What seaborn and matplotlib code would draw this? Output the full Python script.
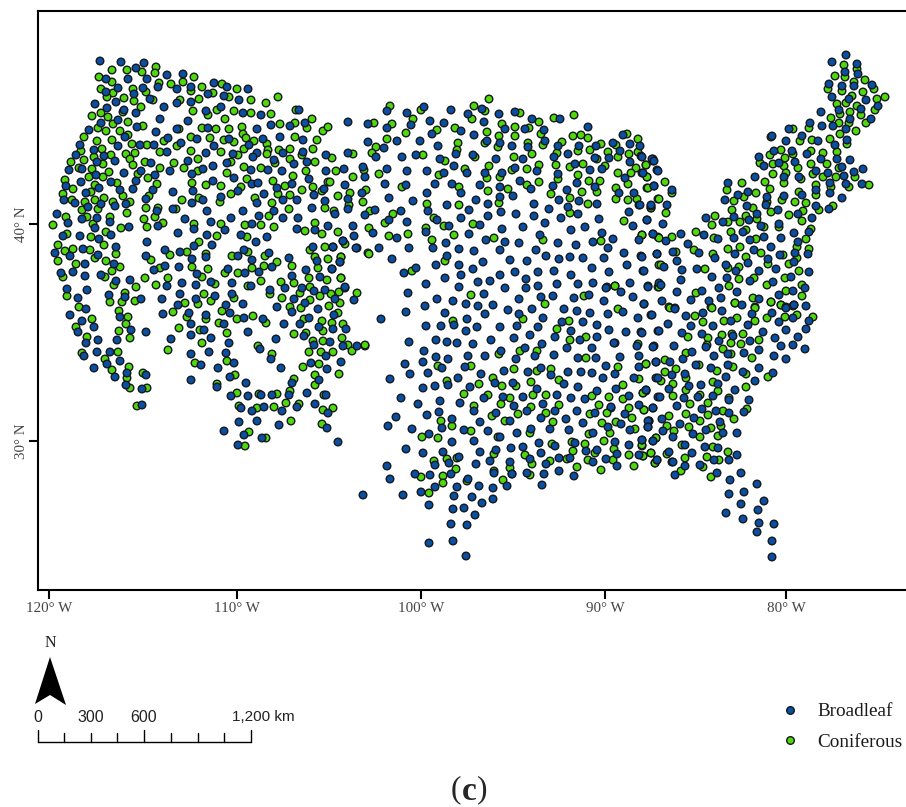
import matplotlib
matplotlib.use('Agg')
import matplotlib.pyplot as plt
import pandas as pd
import seaborn as sns

# Plot sites, as projected map x / y (map is already projected,
# graticule ticks below are given in the same units)
broadleaf_nw = [(100,61),(121,62),(144,63),(136,68),(167,75),(183,74),(106,79),(128,79),(147,79),(158,87),(143,88),(118,88),(106,92),(134,94),(177,89),(191,87),(214,83),(227,87),(248,89),(208,94),(224,96),(239,100),(150,99),(177,103),(191,102),(164,107),(95,104),(116,102),(107,108),(124,110),(136,113),(206,111),(221,107),(243,113),(261,115),(299,110),(160,119),(188,121),(118,120),(101,123),(137,127),(156,132),(177,129),(208,128),(257,129),(271,125),(290,126),(305,123),(89,130),(125,137),(168,138),(197,139),(229,139),(263,139),(280,137),(303,140),(80,145),(94,150),(118,146),(140,145),(154,145),(181,143),(214,146),(249,145),(76,155),(104,156),(167,152),(206,153),(233,154),(257,153),(253,157),(283,153),(303,152),(326,155),(97,162),(115,161),(151,163),(188,161),(227,163),(274,160),(307,162),(69,170),(82,169),(141,171),(170,171),(203,169),(192,174),(213,166),(251,170),(268,170),(282,171),(294,164),(326,171),(96,175),(124,173),(155,175),(234,178),(309,179),(81,182),(66,186),(111,182),(136,181),(213,181),(252,184),(258,183),(277,188),(292,184),(99,188),(120,190),(133,189),(153,190),(193,191),(238,191),(324,189),(86,193),(173,192),(264,194),(314,195),(221,197),(64,200),(75,203),(146,199),(101,204),(88,207),(115,206),(126,204),(192,203),(203,200),(257,203),(283,200),(297,200),(325,201),(157,211),(173,209),(207,211),(243,211),(274,211),(312,208),(57,214),(97,218),(110,222),(82,219),(68,223),(185,219),(211,222),(231,218),(259,216),(283,218),(298,218),(129,227),(158,226),(95,228),(194,229),(252,224),(225,230),(297,229),(315,230),(328,226),(63,236),(80,236),(111,235),(178,233),(207,235),(241,235),(267,237),(99,239)]
broadleaf_sw = [(55,253),(70,256),(83,249),(98,255),(116,247),(147,242),(146,256),(165,250),(180,252),(194,246),(212,245),(244,250),(256,242),(192,259),(206,257),(238,256),(252,260),(269,253),(289,258),(313,247),(333,247),(343,241),(357,248),(317,261),(340,262),(114,264),(85,264),(61,273),(73,272),(85,276),(101,275),(116,281),(130,280),(154,270),(165,266),(179,267),(197,274),(228,269),(245,273),(259,272),(272,267),(292,276),(306,270),(320,277),(332,269),(211,282),(182,283),(167,286),(196,285),(232,283),(251,286),(67,289),(87,290),(109,295),(125,297),(141,299),(162,299),(180,294),(196,299),(215,296),(232,294),(270,290),(285,288),(302,288),(314,291),(325,290),(345,288),(78,298),(294,299),(335,299),(354,300),(178,305),(226,305),(243,304),(305,303),(86,309),(277,307),(292,312),(318,309),(70,315),(120,317),(163,314),(189,313),(206,315),(230,313),(244,318),(263,319),(334,315),(82,321),(309,318),(284,324),(300,324),(191,324),(224,324),(319,327),(94,327),(131,330),(204,330),(346,329),(78,332),(248,332),(146,332),(333,329),(191,335),(211,338),(304,336),(98,340),(117,340),(171,339),(276,339),(86,343),(229,343),(330,342),(314,345),(343,346),(357,346),(260,349),(97,352),(110,352),(209,352),(226,353),(84,356),(191,354),(271,359),(326,356),(120,361),(107,364),(311,363),(341,362),(234,363),(201,365),(94,368),(218,368),(281,368),(327,369),(127,373),(146,375),(230,377),(115,377),(319,380),(191,380),(292,383),(246,383),(126,385),(217,387),(142,389),(231,396),(248,396),(261,395),(272,395),(289,395),(307,393),(326,395),(142,405),(241,408),(264,407),(252,411),(282,411),(297,407),(315,404),(328,413),(239,422),(257,421),(279,425),(327,428),(224,431),(244,435),(262,438),(238,445),(338,442)]
broadleaf_north = [(348,122),(368,124),(387,128),(387,111),(407,113),(424,107),(430,121),(451,110),(468,114),(482,109),(499,114),(515,112),(532,119),(560,119),(444,123),(411,125),(484,122),(432,134),(461,131),(474,135),(505,129),(525,129),(544,130),(588,127),(623,135),(368,142),(397,141),(420,141),(438,146),(487,141),(500,143),(512,146),(528,147),(545,141),(558,146),(579,146),(596,146),(613,143),(630,144),(640,146),(348,153),(384,148),(376,157),(402,157),(416,155),(456,154),(473,155),(440,159),(496,159),(523,159),(554,157),(568,154),(595,158),(620,151),(641,156),(609,158),(630,162),(652,159),(344,169),(363,167),(387,169),(407,171),(427,171),(454,166),(444,173),(467,173),(485,173),(502,173),(515,168),(537,171),(558,174),(575,164),(590,170),(602,169),(625,178),(642,173),(657,170),(365,177),(385,184),(345,185),(406,185),(435,184),(452,184),(480,185),(500,187),(520,181),(531,189),(553,186),(577,183),(595,187),(567,190),(654,186),(362,193),(348,199),(427,193),(461,193),(389,198),(413,201),(476,200),(500,197),(513,196),(559,200),(579,201),(597,204),(619,193),(634,193),(639,205),(651,206),(348,209),(447,205),(488,204),(534,204),(568,207),(335,214),(365,215),(375,210),(401,211),(428,211),(469,210),(501,212),(516,214),(549,209),(578,214),(629,212),(389,220),(407,222),(437,220),(461,218),(488,216),(534,216),(561,218),(599,219),(647,220),(353,226),(449,226),(480,225),(545,223),(585,227),(633,226),(373,233),(426,232),(469,234),(502,229),(523,227),(571,230),(602,233),(354,236),(397,238),(343,241),(540,235),(653,234),(446,243),(486,240),(505,242),(519,243),(558,243),(576,245),(593,242),(613,239),(639,240),(333,247),(356,248),(379,248),(409,248),(433,248),(459,249),(474,251),(500,250),(536,250),(608,248),(624,253),(657,254),(392,259),(447,256),(546,256),(570,257),(583,258),(604,258),(641,256),(340,262),(510,260),(527,261),(559,259),(436,265),(459,265),(483,262),(627,265),(332,269),(416,268),(404,273),(473,269),(515,272),(538,272),(554,271),(592,268),(609,272),(643,271),(461,275),(500,275),(571,275),(445,278),(526,279),(478,282),(490,281),(426,284),(459,287),(538,286),(557,284),(578,284),(593,283),(630,283),(345,287),(607,287),(648,286),(659,283)]
broadleaf_south = [(408,293),(484,294),(505,288),(526,288),(606,288),(621,292),(633,297),(437,299),(453,301),(466,304),(478,306),(493,305),(519,299),(541,297),(553,296),(574,298),(589,295),(604,301),(644,304),(425,306),(406,312),(445,313),(485,314),(508,310),(532,309),(519,314),(564,309),(577,311),(590,313),(608,314),(623,312),(651,315),(638,318),(381,319),(467,319),(543,318),(562,322),(583,322),(454,325),(426,326),(441,326),(477,327),(500,327),(517,326),(538,327),(597,325),(466,331),(571,331),(609,330),(626,332),(641,332),(658,331),(530,335),(555,337),(514,338),(597,337),(580,340),(409,342),(436,340),(447,342),(457,343),(491,340),(473,344),(542,344),(614,343),(637,346),(654,346),(567,348),(592,348),(525,348),(424,351),(501,351),(468,356),(485,356),(535,356),(554,355),(639,356),(436,357),(448,359),(516,359),(578,358),(596,358),(620,357),(405,364),(423,362),(656,362),(442,368),(465,367),(606,366),(639,367),(541,368),(504,371),(528,372),(410,374),(428,373),(481,374),(551,375),(568,372),(581,372),(592,373),(615,374),(390,379),(458,378),(634,378),(656,378),(603,378),(448,385),(495,383),(513,383),(564,384),(423,388),(435,386),(470,387),(578,387),(537,389),(616,389),(646,390),(401,398),(557,395),(503,397),(484,398),(523,397),(571,398),(597,391),(585,399),(629,396),(658,397),(440,401),(418,404),(460,403),(543,404),(514,406),(611,407),(639,405),(653,408),(439,412),(474,411),(527,411),(555,411),(577,411),(595,413),(625,414),(427,415),(496,413),(396,417),(452,419),(541,418),(566,419),(510,421),(480,422),(583,423),(621,424),(648,421),(388,426),(442,428),(608,427),(648,427),(412,429),(464,430),(488,431),(531,429),(550,429),(569,430),(630,430),(429,434),(517,433),(593,433),(500,437),(452,442),(474,441),(539,443),(555,446),(575,443),(615,442),(642,440),(653,441),(629,445),(523,447),(511,448),(406,449),(597,450),(586,451),(423,453),(443,452),(480,452),(496,450),(541,453),(617,454),(639,455),(459,457),(559,458),(570,458),(606,459),(657,460),(435,465),(449,463),(476,464),(490,461),(510,462),(530,459),(546,464),(593,462),(387,466),(617,466),(415,474),(430,475),(451,474),(494,473),(512,474),(527,473),(544,474),(559,471),(390,479),(574,476),(468,479),(435,487),(457,487),(479,486),(493,488),(507,486),(542,485),(363,495),(403,495),(421,492),(454,496),(472,497),(429,505),(482,503),(493,499),(453,509),(464,508),(475,515),(451,524),(467,525),(429,543),(453,541),(466,556)]
broadleaf_ne = [(846,55),(832,62),(857,64),(845,72),(858,74),(829,84),(842,86),(854,86),(872,85),(832,97),(849,99),(866,100),(878,106),(861,109),(839,110),(821,112),(871,119),(850,119),(810,123),(822,126),(833,126),(846,129),(789,129),(772,136),(802,136),(786,141),(818,141),(847,140),(835,145),(774,151),(792,151),(807,154),(759,157),(821,159),(837,159),(850,160),(764,166),(779,163),(795,162),(842,167),(816,171),(863,169),(854,172),(784,177),(799,177),(828,173),(844,176),(755,177),(728,183),(830,183),(846,184),(862,184),(816,190),(830,193),(802,195),(842,198),(767,197),(784,196),(738,195),(748,192),(725,200),(766,205),(747,206),(816,206),(829,209),(778,210),(798,214),(734,217),(757,214),(812,218),(706,218),(749,220),(723,222),(779,224),(761,226),(743,232),(809,232),(794,233),(704,235),(681,234),(653,234),(734,238),(764,237),(781,238),(718,239),(798,242),(666,241),(688,244),(750,240),(771,247),(699,253),(754,250),(735,254),(673,252),(657,254),(780,255),(795,253),(808,254),(642,257),(715,258),(768,259),(677,261),(794,262),(748,263),(726,265),(664,267),(682,270),(697,269),(736,271),(759,271),(776,269),(809,272),(644,271),(712,277),(727,278),(750,281),(791,277),(681,280),(773,282),(648,287),(661,285),(719,288),(805,288),(702,291),(737,292),(677,292),(793,291),(779,295),(691,300),(721,298),(759,299),(662,301),(709,301),(742,305),(806,306),(675,308),(786,307),(794,305),(642,157),(654,161),(658,171),(643,173),(654,186),(672,190),(651,205),(667,205),(647,220),(663,224),(640,205)]
broadleaf_se = [(644,304),(675,309),(652,315),(686,316),(703,313),(722,311),(752,314),(772,313),(786,308),(793,318),(779,322),(809,321),(668,324),(691,326),(713,326),(731,321),(748,325),(806,329),(682,333),(659,331),(642,333),(702,334),(733,336),(763,332),(786,330),(798,337),(775,338),(719,341),(750,341),(793,345),(653,347),(674,346),(706,347),(781,346),(805,349),(759,350),(744,353),(728,354),(692,352),(774,356),(786,359),(714,356),(683,359),(656,362),(670,362),(696,365),(728,365),(759,368),(711,368),(743,372),(773,373),(672,375),(685,374),(658,378),(726,377),(755,381),(689,386),(701,385),(718,384),(646,390),(669,389),(735,390),(713,396),(660,397),(684,398),(698,397),(729,400),(749,400),(653,408),(677,406),(702,409),(716,411),(729,413),(744,412),(662,419),(694,418),(720,422),(680,424),(648,427),(663,431),(706,430),(693,434),(723,433),(737,433),(673,437),(653,441),(642,440),(685,445),(705,447),(718,448),(669,452),(692,453),(737,455),(714,460),(729,460),(657,460),(673,462),(685,466),(700,465),(717,473),(741,473),(675,475),(730,480),(757,484),(729,494),(744,492),(764,501),(741,504),(758,510),(726,513),(743,519),(759,523),(774,524),(757,532),(772,541),(772,557)]

coniferous_nw = [(99,77),(112,70),(127,70),(142,72),(156,67),(155,73),(112,82),(101,89),(113,93),(107,97),(124,98),(133,89),(134,101),(146,92),(153,100),(159,83),(171,84),(183,82),(194,77),(202,87),(191,91),(180,100),(199,99),(222,84),(237,89),(229,97),(251,100),(266,103),(278,97),(213,93),(101,113),(92,116),(108,117),(123,112),(141,107),(193,111),(217,110),(208,115),(234,111),(251,113),(271,114),(296,110),(312,119),(295,123),(307,128),(323,131),(328,127),(280,124),(242,127),(225,119),(229,129),(216,129),(202,128),(179,129),(143,126),(128,122),(113,124),(98,128),(106,131),(120,131),(84,137),(97,141),(112,140),(128,135),(132,144),(147,145),(164,141),(177,146),(191,137),(210,138),(224,140),(234,142),(243,134),(246,138),(254,141),(267,144),(268,150),(267,154),(279,150),(290,149),(295,137),(317,140),(313,149),(302,155),(81,151),(102,149),(94,157),(111,155),(126,154),(135,153),(130,159),(160,152),(191,151),(198,159),(221,152),(238,155),(244,149),(71,162),(84,160),(103,164),(145,162),(133,165),(160,168),(174,163),(184,168),(231,162),(244,167),(261,168),(275,163),(290,159),(315,162),(79,168),(92,169),(109,172),(306,171),(198,171),(227,173),(293,176),(65,180),(89,177),(103,177),(138,174),(148,178),(157,184),(192,183),(247,179),(273,181),(73,189),(95,185),(117,183),(206,185),(221,186),(241,187),(285,186),(313,187),(328,182),(63,194),(91,192),(123,196),(149,196),(231,194),(278,194),(290,195),(302,190),(322,191),(104,198),(95,200),(85,202),(72,200),(113,202),(130,202),(182,200),(199,198),(220,202),(255,198),(272,203),(325,208),(82,210),(98,209),(127,213),(146,208),(158,208),(289,209),(66,217),(87,217),(110,217),(144,219),(155,217),(176,209),(269,216),(53,225),(93,224),(163,223),(121,228),(147,227),(194,224),(221,224),(245,225),(261,225),(274,227),(315,223),(305,231),(322,234),(67,234),(106,232),(91,237),(217,236),(247,237)]
coniferous_sw = [(58,245),(65,251),(73,249),(90,250),(104,245),(95,258),(116,254),(58,261),(76,264),(106,261),(120,267),(112,271),(105,277),(63,277),(151,260),(170,255),(187,252),(199,242),(206,254),(232,256),(248,252),(265,256),(277,262),(264,266),(252,268),(292,266),(310,250),(325,247),(315,257),(328,259),(341,257),(368,253),(192,267),(208,269),(160,268),(225,273),(238,273),(202,277),(145,278),(168,278),(215,284),(261,281),(281,282),(294,283),(309,278),(318,268),(327,280),(341,278),(114,285),(136,287),(156,285),(248,286),(67,296),(125,293),(204,294),(234,298),(270,294),(300,293),(310,287),(320,296),(331,294),(339,292),(357,293),(110,302),(122,302),(135,301),(185,303),(198,304),(211,301),(282,298),(310,300),(340,303),(79,307),(119,311),(173,312),(222,311),(290,307),(301,308),(329,306),(338,313),(128,317),(187,317),(206,319),(237,319),(253,316),(92,319),(219,323),(304,319),(322,321),(266,323),(126,324),(332,323),(343,324),(76,327),(179,328),(200,330),(119,331),(227,333),(323,331),(294,334),(306,333),(87,337),(130,338),(342,338),(202,343),(313,341),(323,341),(348,345),(365,346),(258,346),(168,350),(82,353),(118,352),(309,352),(321,352),(333,352),(352,351),(272,354),(105,359),(227,361),(195,363),(319,364),(303,367),(129,367),(112,370),(143,373),(235,375),(315,375),(339,374),(127,378),(294,379),(315,385),(217,384),(130,388),(147,388),(290,391),(237,393),(259,394),(277,394),(324,395),(286,403),(137,406),(239,406),(257,408),(274,407),(299,404),(323,410),(333,408),(291,421),(322,424),(249,432),(266,438),(245,446)]
coniferous_north = [(489,99),(390,106),(421,110),(474,106),(485,111),(520,113),(574,115),(554,118),(539,122),(374,123),(392,124),(413,119),(472,119),(502,124),(515,127),(529,128),(455,128),(437,130),(406,133),(387,139),(487,132),(499,136),(515,136),(541,134),(573,136),(581,135),(588,138),(627,134),(638,139),(458,143),(485,143),(498,147),(528,143),(543,145),(562,142),(601,144),(616,145),(376,147),(372,153),(353,154),(423,155),(457,150),(475,157),(532,154),(557,153),(578,151),(590,150),(608,152),(629,154),(638,152),(332,158),(445,161),(514,157),(597,159),(618,157),(653,161),(539,165),(556,165),(570,167),(583,164),(605,166),(636,168),(646,165),(336,171),(364,170),(379,174),(439,175),(465,169),(489,166),(512,170),(527,169),(618,173),(631,173),(353,177),(487,178),(500,177),(578,175),(647,177),(558,179),(539,182),(589,181),(600,181),(628,184),(330,182),(402,187),(459,187),(508,189),(527,185),(616,188),(647,188),(366,190),(350,193),(338,196),(488,191),(551,194),(582,192),(597,192),(570,198),(616,199),(628,200),(637,199),(658,199),(363,202),(427,204),(459,205),(499,203),(588,204),(349,205),(651,208),(370,211),(334,211),(393,214),(570,213),(385,223),(434,218),(624,221),(444,226),(473,224),(369,228),(338,232),(426,228),(408,234),(454,235),(389,236),(642,235),(494,238),(432,240),(543,240),(601,241),(658,237),(345,244),(341,257),(369,254),(445,261),(412,271),(341,278),(659,265),(615,286)]
coniferous_south = [(471,295),(545,304),(584,296),(615,286),(618,309),(658,287),(453,321),(523,319),(569,321),(557,329),(570,340),(586,337),(638,344),(615,343),(520,351),(537,351),(499,354),(586,358),(438,366),(471,366),(646,364),(618,367),(514,369),(551,369),(537,371),(559,380),(639,379),(493,378),(447,381),(531,382),(479,384),(502,386),(516,386),(623,385),(646,391),(643,393),(464,394),(488,395),(510,398),(533,395),(546,395),(609,397),(592,396),(623,399),(501,404),(474,406),(559,405),(599,405),(531,407),(611,408),(629,408),(644,410),(518,414),(546,413),(590,414),(607,413),(492,416),(632,418),(441,421),(505,421),(553,422),(649,421),(602,423),(616,422),(452,426),(635,429),(471,431),(530,433),(610,433),(589,434),(422,437),(438,438),(498,437),(656,438),(604,441),(552,444),(572,442),(585,444),(642,446),(573,451),(614,449),(595,453),(629,455),(651,453),(494,454),(525,455),(457,458),(643,456),(447,459),(434,461),(550,461),(567,459),(588,460),(613,460),(655,463),(532,464),(510,468),(577,467),(634,466),(601,470),(456,469),(494,471),(443,476),(421,477),(512,474),(530,475),(467,481),(503,480),(443,483),(429,493),(365,345)]
coniferous_ne = [(844,65),(857,69),(845,77),(835,76),(854,82),(865,80),(828,89),(842,91),(874,89),(863,92),(852,96),(877,99),(885,97),(837,104),(846,103),(857,106),(875,110),(850,112),(861,115),(840,114),(831,118),(866,123),(839,123),(849,123),(793,129),(809,128),(856,131),(840,134),(830,139),(800,141),(812,140),(771,137),(847,144),(837,152),(781,150),(770,155),(811,151),(823,153),(793,154),(785,158),(760,163),(773,164),(784,166),(798,168),(811,164),(827,164),(839,168),(773,174),(786,173),(813,174),(823,177),(836,177),(855,177),(801,179),(742,183),(765,182),(784,183),(816,185),(770,189),(849,187),(831,187),(869,185),(727,190),(756,193),(799,192),(816,195),(744,197),(734,201),(782,200),(767,202),(795,202),(806,203),(833,206),(753,208),(732,210),(771,212),(819,210),(803,211),(789,215),(715,216),(746,216),(757,219),(728,222),(740,222),(802,221),(712,225),(779,227),(764,227),(811,229),(731,232),(746,230),(696,232),(672,237),(659,238),(642,235),(714,238),(756,239),(806,239),(797,247),(809,249),(694,250),(740,247),(728,249),(761,253),(676,252),(783,255),(746,257),(797,258),(713,254),(789,264),(661,265),(728,268),(739,267),(768,264),(705,269),(799,271),(754,278),(739,279),(785,278),(659,287),(802,285),(767,285),(729,286),(696,293),(786,291),(802,296),(753,298),(771,302),(735,303),(669,307),(781,305),(711,307),(755,307),(793,306),(665,182),(646,165),(653,159),(647,177),(648,188),(672,193),(659,199),(666,213),(651,208)]
coniferous_se = [(670,308),(712,308),(735,303),(755,308),(771,302),(781,305),(794,305),(695,316),(703,322),(724,321),(737,318),(755,321),(767,318),(785,317),(797,315),(813,317),(688,337),(708,338),(722,335),(732,334),(743,334),(731,343),(741,344),(759,340),(707,345),(723,349),(686,353),(731,354),(752,358),(646,364),(665,360),(699,365),(733,367),(717,371),(746,374),(676,369),(665,372),(768,377),(686,378),(661,381),(713,382),(746,387),(673,384),(686,390),(718,391),(673,396),(643,393),(700,395),(708,403),(729,398),(690,404),(644,410),(747,409),(723,411),(708,415),(686,414),(669,416),(734,419),(700,421),(649,421),(667,426),(689,427),(711,428),(721,426),(674,431),(700,437),(718,436),(656,438),(642,445),(682,445),(713,447),(728,452),(651,453),(667,454),(643,456),(707,457),(685,458),(719,460),(655,463),(672,462),(681,471),(703,467),(711,477)]

lon_ticks = [49, 237, 421, 605, 786]
lon_labels = ['120° W', '110° W', '100° W', '90° W', '80° W']
lat_ticks = [224, 441]
lat_labels = ['40° N', '30° N']
scale_ticks = [38, 64, 91, 117, 144, 171, 198, 224, 251]
scale_major = [38, 144, 251]

BLUE = '#0b4fa3'
GREEN = '#4fd80c'
W, H = 906, 807

broadleaf = broadleaf_nw + broadleaf_sw + broadleaf_north + broadleaf_south + broadleaf_ne + broadleaf_se
coniferous = coniferous_nw + coniferous_sw + coniferous_north + coniferous_south + coniferous_ne + coniferous_se

# coniferous rows first so the blue points end up on top
df = pd.DataFrame(coniferous + broadleaf, columns=['x', 'y'])
df['type'] = ['Coniferous'] * len(coniferous) + ['Broadleaf'] * len(broadleaf)

sns.set_theme(style='white')
plt.rcParams['font.family'] = ['Liberation Serif', 'DejaVu Serif']

fig = plt.figure(figsize=(W / 100, H / 100), dpi=100)

# main map frame, runs off the right side of the image
left, top, bottom = 38, 11, 590
ax = fig.add_axes([left / W, 1 - bottom / H, (W - left) / W, (bottom - top) / H])
sns.scatterplot(data=df, x='x', y='y', hue='type', hue_order=['Broadleaf', 'Coniferous'],
                palette={'Broadleaf': BLUE, 'Coniferous': GREEN}, s=30, linewidth=1.0,
                edgecolor='#14181c', ax=ax, clip_on=False, legend=True)
ax.set_xlim(left, W)
ax.set_ylim(bottom, top)
ax.set_xlabel('')
ax.set_ylabel('')
ax.set_xticks(lon_ticks)
ax.set_xticklabels(lon_labels, fontsize=10.8, color='#444444')
ax.set_yticks(lat_ticks)
ax.set_yticklabels(lat_labels, fontsize=10.8, color='#444444', rotation=90, va='center')
ax.tick_params(axis='x', length=6.5, width=1.5, color='black', pad=2, bottom=True)
ax.tick_params(axis='y', length=6.5, width=1.5, color='black', pad=1, left=True)
for side in ['left', 'top', 'bottom']:
    ax.spines[side].set_color('black')
    ax.spines[side].set_linewidth(1.5)
ax.spines['right'].set_visible(False)

leg = ax.legend(loc='upper left', bbox_to_anchor=((775 - left) / (W - left), (bottom - 703) / (bottom - top)),
                frameon=False, fontsize=13.8, labelspacing=0.68, handlelength=1.6, handletextpad=0.6,
                borderpad=0, borderaxespad=0)
for t in leg.get_texts():
    t.set_color('#1a1a1a')

# overlay in image pixels for the north arrow, scale bar and caption
over = fig.add_axes([0, 0, 1, 1])
over.set_xlim(0, W)
over.set_ylim(H, 0)
over.axis('off')
over.patch.set_alpha(0)

over.text(50, 643, 'N', ha='center', va='center', fontsize=11.5, color='#222222')
over.fill([50, 35, 50, 66], [657, 704, 695, 705], color='black', lw=0)

over.plot([scale_ticks[0], scale_ticks[-1]], [742, 742], color='black', lw=1.0)
for sx in scale_ticks:
    over.plot([sx, sx], [742, 730 if sx in scale_major else 733], color='black', lw=1.0)
sans = ['Liberation Sans', 'DejaVu Sans']
over.text(38, 717, '0', ha='center', va='center', fontsize=11.5, family=sans, color='#222222')
over.text(91, 717, '300', ha='center', va='center', fontsize=11.5, family=sans, color='#222222')
over.text(144, 717, '600', ha='center', va='center', fontsize=11.5, family=sans, color='#222222')
over.text(232, 717, '1,200 km', ha='left', va='center', fontsize=11, family=sans, color='#222222')

# caption, bold letter between regular brackets
over.text(451, 790, '(', ha='left', va='center', fontsize=22.5)
over.text(469, 792, 'c', ha='center', va='center', fontsize=24, fontweight='bold')
over.text(487, 790, ')', ha='right', va='center', fontsize=22.5)

fig.savefig('out.png', dpi=100, facecolor='white')
plt.close(fig)
